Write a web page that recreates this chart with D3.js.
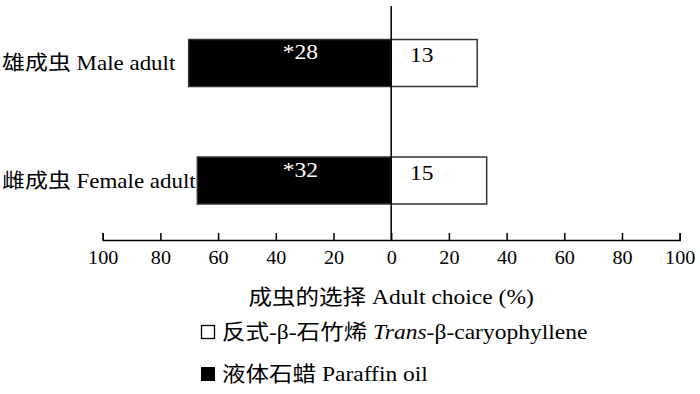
<!DOCTYPE html>
<html lang="zh"><head>
<meta charset="utf-8">
<title>Adult choice</title>
<script src="https://cdn.jsdelivr.net/npm/d3@7"></script>
<style>
  body { margin: 0; background: #fff; }
  text { font-family: "Liberation Serif", "Noto Sans CJK SC", serif; fill: #000; }
</style>
</head>
<body>
<script type="text/javascript">

var width = 700;
var height = 394;

// data
var categories = ["雄成虫 Male adult", "雌成虫 Female adult"];
var paraffinPct = [70.2, 67.2];   // left (black) bars
var transPct = [29.8, 33.1];      // right (white) bars
var paraffinN = ["*28", "*32"];
var transN = ["13", "15"];
var tickValues = [-100, -80, -60, -40, -20, 0, 20, 40, 60, 80, 100];

var stretch = 1.12;   // the figure's type is a bit wide
var fs = "21px";

var svg = d3.select("body").append("svg")
            .attr("width", width)
            .attr("height", height);

var x = d3.scaleLinear().domain([-100, 100]).range([102.7, 679.7]);
var y = d3.scalePoint().domain(categories).range([63, 180.5]);
var barH = 47;
var axisY = 240;

function place(sel, fx, fy) {
    return sel.attr("transform", (d, i) =>
        "translate(" + fx(d, i) + "," + fy(d, i) + ") scale(" + stretch + ",1)");
}

// bars
var rows = svg.selectAll("g.row")
    .data(categories)
    .enter().append("g")
    .attr("class", "row");

rows.append("rect")
    .attr("x", (d, i) => x(-paraffinPct[i]))
    .attr("y", d => y(d) - barH / 2)
    .attr("width", (d, i) => x(0) - x(-paraffinPct[i]))
    .attr("height", barH)
    .attr("fill", "#000")
    .attr("stroke", "#333")
    .attr("stroke-width", 1.5);

rows.append("rect")
    .attr("x", x(0))
    .attr("y", d => y(d) - barH / 2)
    .attr("width", (d, i) => x(transPct[i]) - x(0))
    .attr("height", barH)
    .attr("fill", "#fff")
    .attr("stroke", "#333")
    .attr("stroke-width", 1.5);

rows.append("text")
    .call(place, () => x(-31.5), d => y(d) - 4)
    .attr("text-anchor", "middle")
    .style("fill", "#fff")
    .style("font-size", fs)
    .text((d, i) => paraffinN[i]);

rows.append("text")
    .call(place, () => x(6.5), d => y(d) - 1)
    .attr("text-anchor", "start")
    .style("font-size", fs)
    .text((d, i) => transN[i]);

// category labels start at the left edge
rows.append("text")
    .call(place, () => 2, d => y(d) + 7)
    .attr("text-anchor", "start")
    .style("font-size", "20.5px")
    .text(d => d);

// zero line
svg.append("line")
    .attr("x1", x(0)).attr("x2", x(0))
    .attr("y1", 6).attr("y2", axisY)
    .attr("stroke", "#000")
    .attr("stroke-width", 1.5);

// x axis
var xAxis = d3.axisBottom(x)
    .tickValues(tickValues)
    .tickFormat(d => Math.abs(d))
    .tickSize(-7)
    .tickSizeOuter(-7)
    .tickPadding(11);

var gx = svg.append("g")
    .attr("transform", "translate(0," + axisY + ")")
    .call(xAxis);
gx.selectAll("path, line").attr("stroke", "#000").attr("stroke-width", 1.5);
gx.selectAll("text")
    .attr("transform", "scale(" + stretch + ",1)")
    .style("font-family", "'Liberation Serif', serif")
    .style("font-size", "18px");

svg.append("text")
    .call(place, () => x(0), () => 304)
    .attr("text-anchor", "middle")
    .style("font-size", fs)
    .text("成虫的选择 Adult choice (%)");

// legend
var legend = svg.append("g");

legend.append("rect")
    .attr("x", 201.5).attr("y", 325.5)
    .attr("width", 13).attr("height", 13)
    .attr("fill", "#fff").attr("stroke", "#000").attr("stroke-width", 1.3);

var t1 = legend.append("text")
    .call(place, () => 222, () => 339)
    .style("font-size", fs);
t1.append("tspan").text("反式-β-石竹烯 ");
t1.append("tspan").style("font-style", "italic").text("Trans");
t1.append("tspan").text("-β-caryophyllene");

legend.append("rect")
    .attr("x", 201).attr("y", 367)
    .attr("width", 14).attr("height", 14)
    .attr("fill", "#000");

legend.append("text")
    .call(place, () => 222, () => 381)
    .style("font-size", fs)
    .text("液体石蜡 Paraffin oil");

</script>
</body></html>
